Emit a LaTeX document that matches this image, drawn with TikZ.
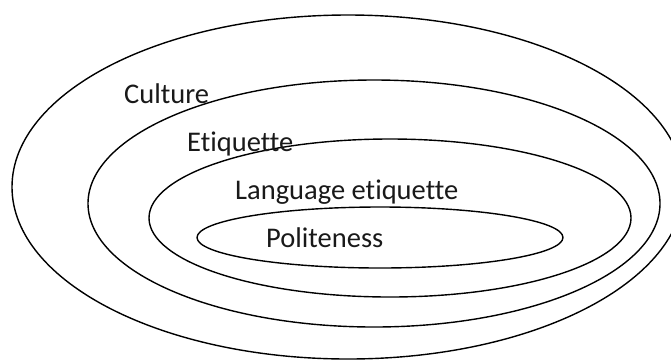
\documentclass[tikz,border=0pt]{standalone}
\usepackage{fontspec}
\setmainfont[Ligatures=NoCommon]{Carlito}
\begin{document}
\begin{tikzpicture}[x=1pt,y=-1pt,
  ring/.style={draw=black,line width=1.4pt},
  lbl/.style={anchor=base west,inner sep=0pt,font=\fontsize{28.5}{34}\selectfont,text=black!90}]
\useasboundingbox (0,0) rectangle (671,360);
\draw[ring] (348,187) ellipse [x radius=336,y radius=172];
\draw[ring] (374,203.5) ellipse [x radius=286,y radius=123.5];
\draw[ring] (390,218) ellipse [x radius=241,y radius=79];
\draw[ring] (380,237.5) ellipse [x radius=183,y radius=30.5];
\node[lbl] (culture) at (124,103) {Culture};
\node[lbl] (etiquette) at (187,151) {Etiquette};
\node[lbl] (language) at (235,199) {Language etiquette};
\node[lbl] (politeness) at (266,247) {Politeness};
\end{tikzpicture}
\end{document}
